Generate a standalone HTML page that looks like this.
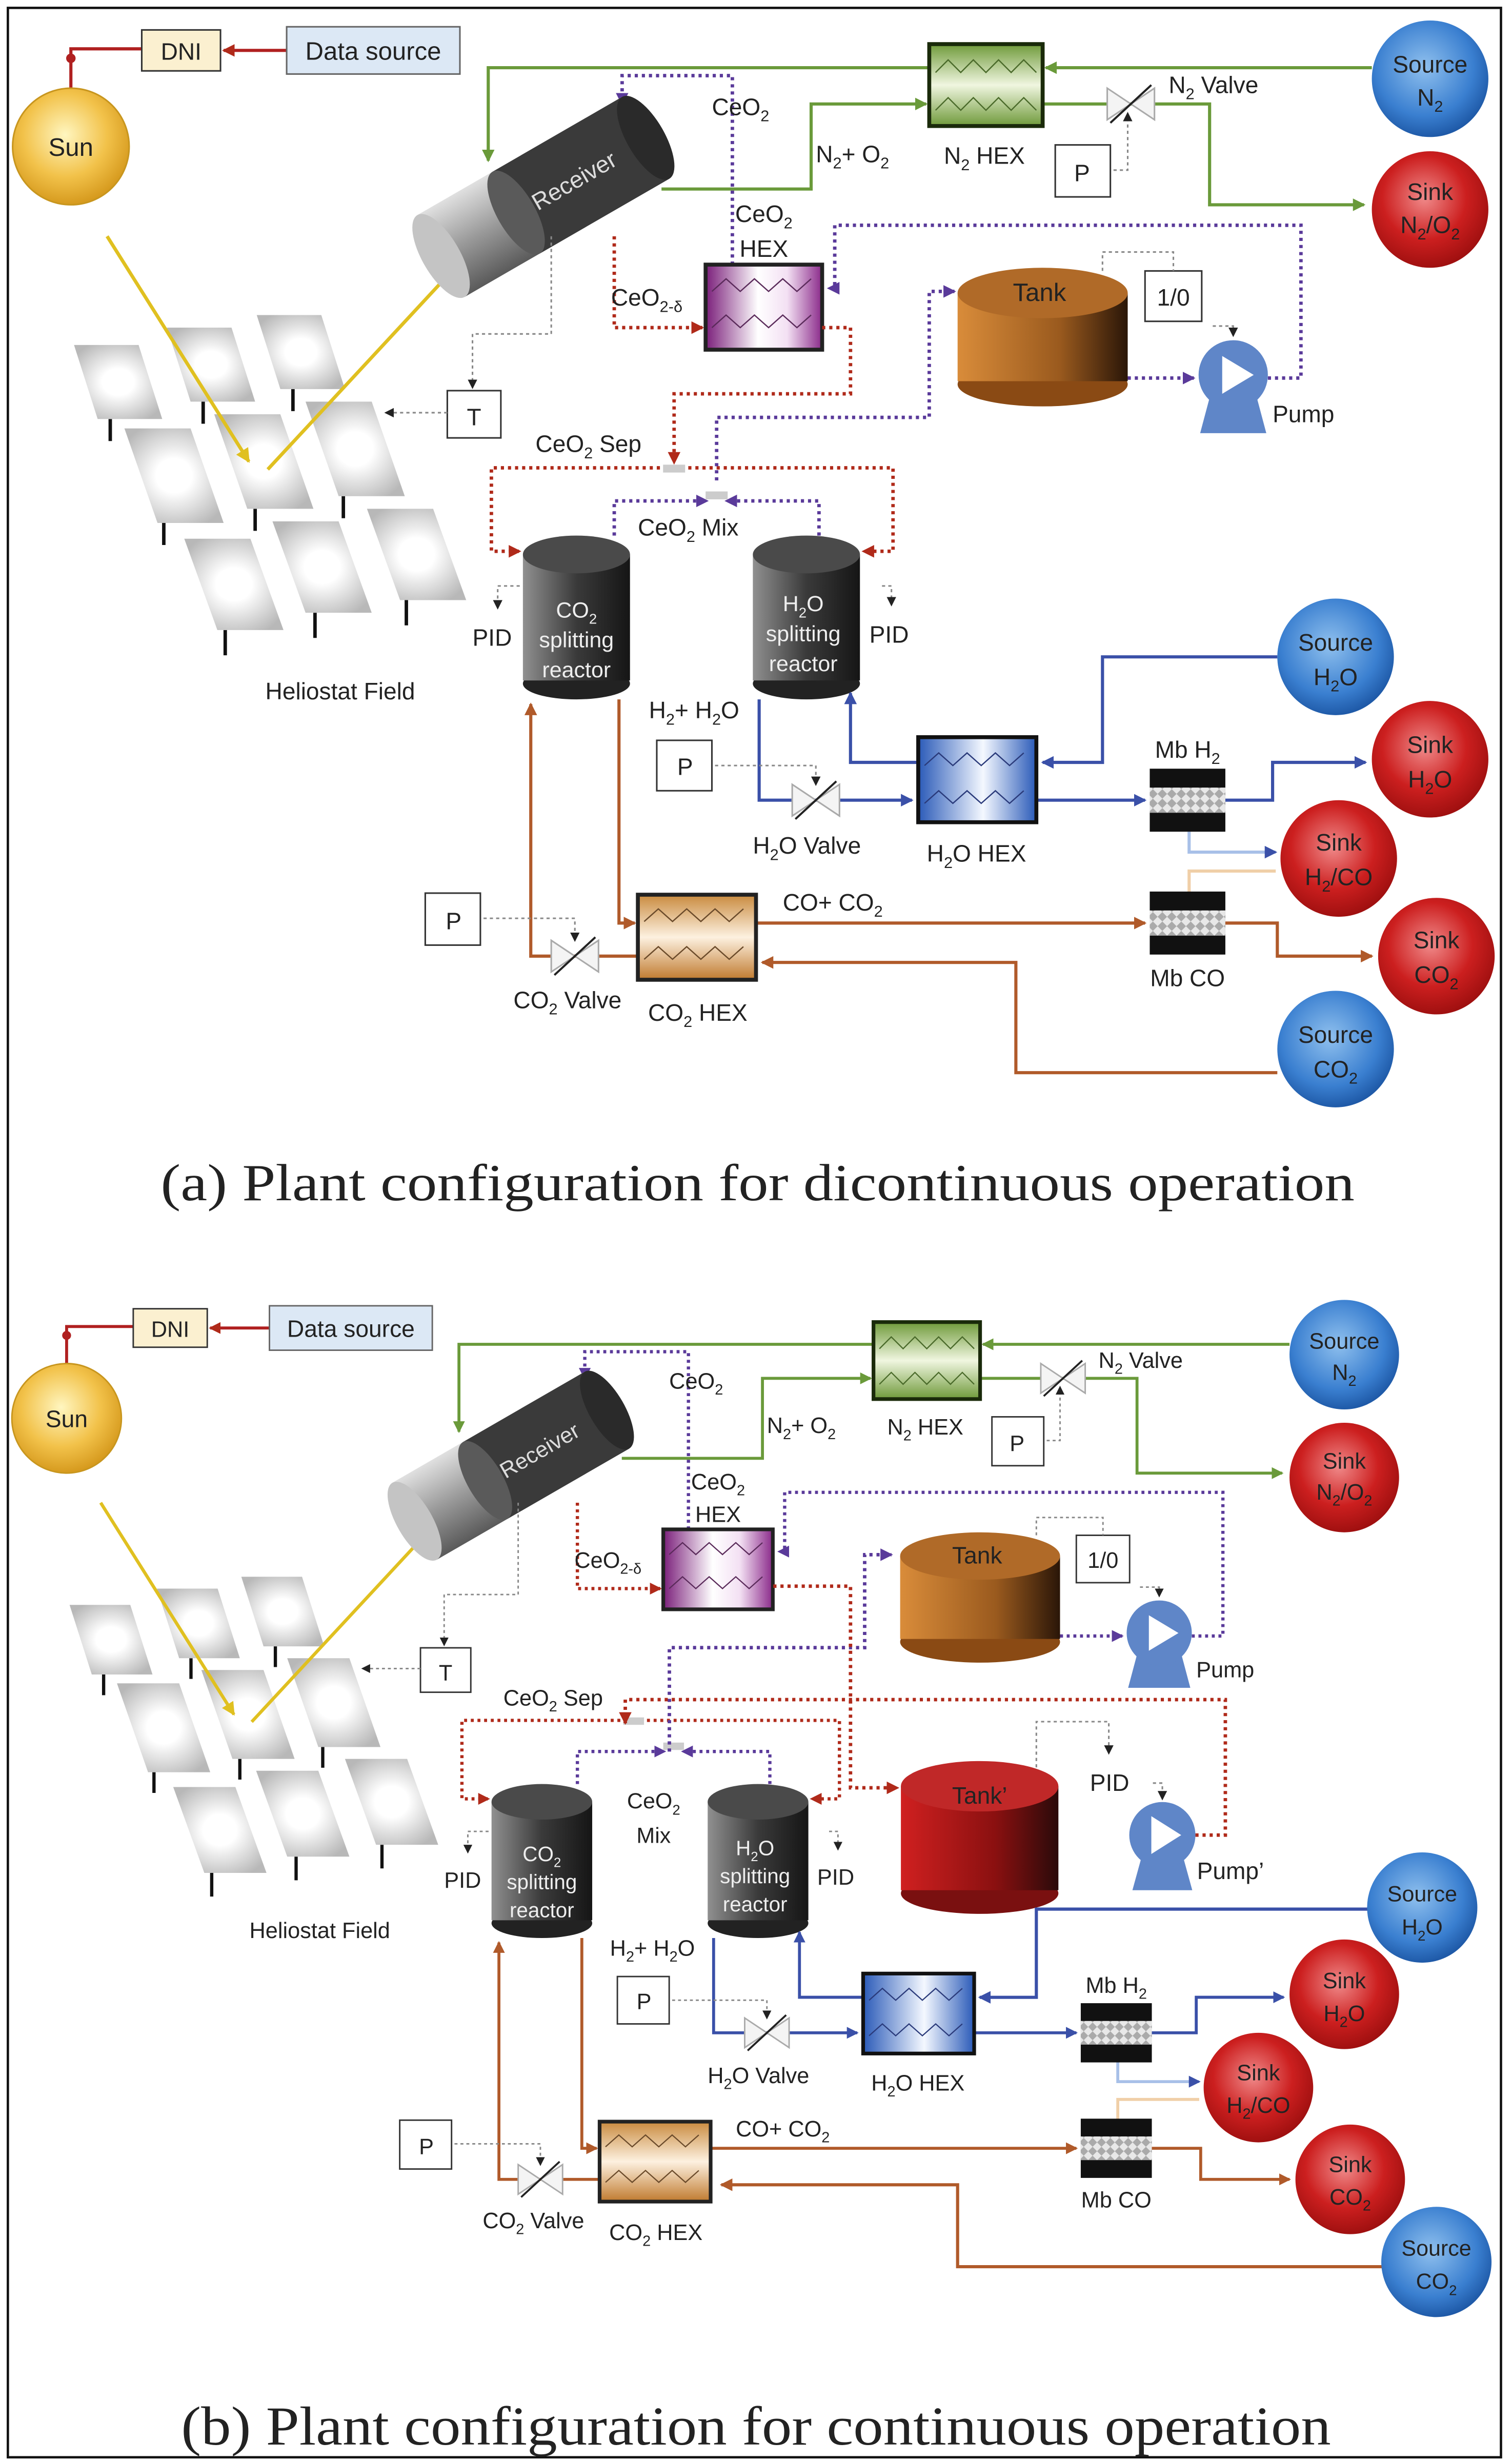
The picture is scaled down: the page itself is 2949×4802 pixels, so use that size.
<!DOCTYPE html>
<html><head><meta charset="utf-8">
<style>
html,body{margin:0;padding:0;background:#fff;}
svg{display:block;}
text{font-family:"Liberation Sans","DejaVu Sans",sans-serif;fill:#222;}
.cap{font-family:"Liberation Serif","DejaVu Serif",serif;font-size:33px;fill:#222;}
</style></head><body>
<svg xmlns="http://www.w3.org/2000/svg" xmlns:xlink="http://www.w3.org/1999/xlink" width="2949" height="4802" viewBox="0 0 960 1563" preserveAspectRatio="none">
<defs>
<radialGradient id="sun" cx="45%" cy="40%" r="60%"><stop offset="0" stop-color="#fff6c0"/><stop offset="0.6" stop-color="#f2c24a"/><stop offset="1" stop-color="#d69a1e"/></radialGradient>
<radialGradient id="blu" cx="45%" cy="40%" r="60%"><stop offset="0" stop-color="#8fc0ee"/><stop offset="0.7" stop-color="#3a7fd0"/><stop offset="1" stop-color="#1f5aa8"/></radialGradient>
<radialGradient id="red" cx="45%" cy="40%" r="60%"><stop offset="0" stop-color="#f08a8a"/><stop offset="0.6" stop-color="#cc1f1f"/><stop offset="1" stop-color="#a01010"/></radialGradient>
<linearGradient id="grn" x1="0" y1="0" x2="0" y2="1"><stop offset="0" stop-color="#6f9a3a"/><stop offset="0.5" stop-color="#f0f6e0"/><stop offset="1" stop-color="#6f9a3a"/></linearGradient>
<linearGradient id="pur" x1="0" y1="0" x2="1" y2="0"><stop offset="0" stop-color="#7a1e7a"/><stop offset="0.45" stop-color="#fff"/><stop offset="0.7" stop-color="#f3e0f3"/><stop offset="1" stop-color="#8a2a8a"/></linearGradient>
<linearGradient id="bhx" x1="0" y1="0" x2="1" y2="0"><stop offset="0" stop-color="#2a5ab8"/><stop offset="0.55" stop-color="#f4f8ff"/><stop offset="1" stop-color="#2a5ab8"/></linearGradient>
<linearGradient id="ohx" x1="0" y1="0" x2="0" y2="1"><stop offset="0" stop-color="#c98a3e"/><stop offset="0.5" stop-color="#fdf1e0"/><stop offset="1" stop-color="#c07a2e"/></linearGradient>
<linearGradient id="tank" x1="0" y1="0" x2="1" y2="0"><stop offset="0" stop-color="#d98c3a"/><stop offset="0.6" stop-color="#9a5a1e"/><stop offset="1" stop-color="#2a1608"/></linearGradient>
<linearGradient id="tankr" x1="0" y1="0" x2="1" y2="0"><stop offset="0" stop-color="#d02020"/><stop offset="0.6" stop-color="#8a1010"/><stop offset="1" stop-color="#2a0a0a"/></linearGradient>
<linearGradient id="reac" x1="0" y1="0" x2="1" y2="0"><stop offset="0" stop-color="#909090"/><stop offset="0.5" stop-color="#3a3a3a"/><stop offset="1" stop-color="#151515"/></linearGradient>
<linearGradient id="rcv" x1="0" y1="0" x2="0" y2="1"><stop offset="0" stop-color="#e0e0e0"/><stop offset="0.5" stop-color="#9a9a9a"/><stop offset="1" stop-color="#5a5a5a"/></linearGradient>
<radialGradient id="mir" cx="50%" cy="50%" r="60%"><stop offset="0.3" stop-color="#fff"/><stop offset="1" stop-color="#b8b8b8"/></radialGradient>
<pattern id="mb" width="6" height="6" patternUnits="userSpaceOnUse"><rect width="6" height="6" fill="#aaa"/><path d="M0 3 L3 0 L6 3 L3 6Z" fill="#e8e8e8"/></pattern>
<marker id="aG" markerWidth="8" markerHeight="8" refX="7" refY="4" orient="auto" markerUnits="userSpaceOnUse"><path d="M0 0 L8 4 L0 8Z" fill="#6a9a3a"/></marker>
<marker id="aB" markerWidth="8" markerHeight="8" refX="7" refY="4" orient="auto" markerUnits="userSpaceOnUse"><path d="M0 0 L8 4 L0 8Z" fill="#3a50a8"/></marker>
<marker id="aO" markerWidth="8" markerHeight="8" refX="7" refY="4" orient="auto" markerUnits="userSpaceOnUse"><path d="M0 0 L8 4 L0 8Z" fill="#b05a2a"/></marker>
<marker id="aP" markerWidth="8" markerHeight="8" refX="7" refY="4" orient="auto" markerUnits="userSpaceOnUse"><path d="M0 0 L8 4 L0 8Z" fill="#5a3a9a"/></marker>
<marker id="aR" markerWidth="8" markerHeight="8" refX="7" refY="4" orient="auto" markerUnits="userSpaceOnUse"><path d="M0 0 L8 4 L0 8Z" fill="#b02a1a"/></marker>
<marker id="aK" markerWidth="6" markerHeight="6" refX="5" refY="3" orient="auto" markerUnits="userSpaceOnUse"><path d="M0 0 L6 3 L0 6Z" fill="#222"/></marker>
<marker id="aY" markerWidth="9" markerHeight="9" refX="8" refY="4.5" orient="auto" markerUnits="userSpaceOnUse"><path d="M0 0 L9 4.5 L0 9Z" fill="#e0c020"/></marker>
</defs>

<rect x="5" y="5" width="948" height="1555" fill="#fff" stroke="#111" stroke-width="1.5"/>

<g id="T" fill="none">
 <g stroke="#111" stroke-width="2.2">
  <path d="M70 266v14M129 255v14M186 247v14M104 332v14M162 323v14M218 315v14M143 400v16M200 389v16M258 381v16"/>
 </g>
 <g fill="url(#mir)">
  <path d="M47 219h41l15 47h-41z"/><path d="M106 208h41l15 47h-41z"/><path d="M163 200h41l15 47h-41z"/>
  <path d="M79 272h42l21 60h-42z"/><path d="M136 263h42l21 60h-42z"/><path d="M194 255h42l21 60h-42z"/>
  <path d="M117 342h42l21 58h-42z"/><path d="M173 331h42l21 58h-42z"/><path d="M233 323h42l21 58h-42z"/>
 </g>
 <text x="216" y="444" font-size="15" text-anchor="middle">Heliostat Field</text>
 <path d="M68 150 L158 293" stroke="#e0c020" stroke-width="2.2" marker-end="url(#aY)"/>
 <path d="M170 298 L312 145" stroke="#e0c020" stroke-width="2.2" marker-end="url(#aY)"/>
 <path d="M45 56 V31 H90" stroke="#b02020" stroke-width="2"/><circle cx="45" cy="37" r="3" fill="#b02020"/>
 <path d="M182 32 H142" stroke="#b02020" stroke-width="2" marker-end="url(#aR)"/>
 <circle cx="45" cy="93" r="37" fill="url(#sun)" stroke="#c8961e"/>
 <text x="45" y="99" font-size="16" text-anchor="middle">Sun</text>
 <rect x="90" y="19" width="50" height="26" fill="#fbf0d0" stroke="#333"/>
 <text x="115" y="38" font-size="15" text-anchor="middle">DNI</text>
 <rect x="182" y="17" width="110" height="30" fill="#dce8f5" stroke="#666"/>
 <text x="237" y="38" font-size="16" text-anchor="middle">Data source</text>
 <path d="M871 43 H664" stroke="#6a9a3a" stroke-width="2" marker-end="url(#aG)"/>
 <path d="M590 43 H310 V102" stroke="#6a9a3a" stroke-width="2" marker-end="url(#aG)"/>
 <path d="M420 120 H515 V66 H588" stroke="#6a9a3a" stroke-width="2" marker-end="url(#aG)"/>
 <path d="M662 66 H768 V130 H866" stroke="#6a9a3a" stroke-width="2" marker-end="url(#aG)"/>
 <rect x="590" y="28" width="72" height="52" fill="url(#grn)" stroke="#1a2a0a" stroke-width="2.5"/>
 <path d="M594 46 l8 -8 8 8 8 -8 8 8 8 -8 8 8 8 -8 8 8 M594 70 l8 -8 8 8 8 -8 8 8 8 -8 8 8 8 -8 8 8" stroke="#4a6a2a" stroke-width="0.8"/>
 <text x="625" y="104" font-size="15" text-anchor="middle">N<tspan font-size="10" dy="4">2</tspan><tspan dy="-4"> HEX</tspan></text>
 <path d="M703 56 L703 76 L733 56 L733 76 Z" fill="#f4f4f4" stroke="#aaa"/>
 <path d="M705 78 L731 54" stroke="#222" stroke-width="1.3"/>
 <text x="742" y="59" font-size="15">N<tspan font-size="10" dy="4">2</tspan><tspan dy="-4"> Valve</tspan></text>
 <rect x="670" y="92" width="35" height="33" fill="#fff" stroke="#333"/>
 <text x="687" y="115" font-size="15" text-anchor="middle">P</text>
 <path d="M707 108 H716 V72" stroke="#888" stroke-width="1" stroke-dasharray="2,2" marker-end="url(#aK)"/>
 <text x="518" y="103" font-size="15">N<tspan font-size="10" dy="4">2</tspan><tspan dy="-4">+ O</tspan><tspan font-size="10" dy="4">2</tspan></text>
 <circle cx="908" cy="50" r="37" fill="url(#blu)"/><text x="908" y="46" font-size="15" text-anchor="middle">Source</text><text x="908" y="67" font-size="15" text-anchor="middle">N<tspan font-size="10" dy="4">2</tspan></text>
 <circle cx="908" cy="133" r="37" fill="url(#red)"/><text x="908" y="127" font-size="15" text-anchor="middle">Sink</text><text x="908" y="148" font-size="15" text-anchor="middle">N<tspan font-size="10" dy="4">2</tspan><tspan dy="-4">/O</tspan><tspan font-size="10" dy="4">2</tspan></text>
 <g stroke="#5a3a9a" stroke-width="2.2" stroke-dasharray="2,2.5">
  <path d="M465 168 V48 H395 V66" marker-end="url(#aP)"/>
  <path d="M805 240 H826 V143 H530 V183 H526" marker-end="url(#aP)"/>
  <path d="M716 240 H758" marker-end="url(#aP)"/>
 </g>
 <path d="M390 150 V208 H446" stroke="#b02a1a" stroke-width="2.2" stroke-dasharray="2,2.5" marker-end="url(#aR)"/>
 <g transform="translate(345,125) rotate(-30)">
  <rect x="-75" y="-30" width="150" height="60" fill="url(#rcv)"/>
  <rect x="-20" y="-30" width="95" height="60" fill="#3a3a3a"/>
  <ellipse cx="-20" cy="0" rx="12" ry="30" fill="#5a5a5a"/>
  <ellipse cx="75" cy="0" rx="12" ry="30" fill="#2a2a2a"/>
  <ellipse cx="-75" cy="0" rx="12" ry="30" fill="#c4c4c4"/>
  <text x="22" y="6" font-size="15" text-anchor="middle" style="fill:#ddd">Receiver</text>
 </g>
 <text x="452" y="73" font-size="15">CeO<tspan font-size="10" dy="4">2</tspan></text>
 <text x="485" y="141" font-size="15" text-anchor="middle">CeO<tspan font-size="10" dy="4">2</tspan></text>
 <text x="485" y="163" font-size="15" text-anchor="middle">HEX</text>
 <rect x="448" y="168" width="74" height="54" fill="url(#pur)" stroke="#222" stroke-width="2.5"/>
 <path d="M452 185 l9 -8 9 8 9 -8 9 8 9 -8 9 8 9 -8 M452 208 l9 -8 9 8 9 -8 9 8 9 -8 9 8 9 -8" stroke="#5a2a5a" stroke-width="0.8"/>
 <text x="388" y="194" font-size="15">CeO<tspan font-size="10" dy="4">2-δ</tspan></text>
 <rect x="284" y="248" width="34" height="30" fill="#fff" stroke="#333"/>
 <text x="301" y="270" font-size="15" text-anchor="middle">T</text>
 <path d="M350 150 V212 H300 V246" stroke="#888" stroke-dasharray="2,2" marker-end="url(#aK)"/>
 <path d="M284 262 H245" stroke="#888" stroke-dasharray="2,2" marker-end="url(#aK)"/>
 <ellipse cx="662" cy="244" rx="54" ry="14" fill="#8a4a14"/>
 <rect x="608" y="186" width="108" height="56" fill="url(#tank)"/>
 <ellipse cx="662" cy="186" rx="54" ry="16" fill="#b06a28"/>
 <text x="660" y="191" font-size="16" text-anchor="middle">Tank</text>
 <rect x="727" y="172" width="36" height="32" fill="#fff" stroke="#333"/>
 <text x="745" y="194" font-size="15" text-anchor="middle">1/0</text>
 <path d="M700 172 V160 H745 V172" stroke="#888" stroke-dasharray="2,2"/>
 <path d="M770 207 H783 V213" stroke="#888" stroke-dasharray="2,2" marker-end="url(#aK)"/>
 <path d="M770 245 L762 275 H804 L796 245Z" fill="#5f86c8"/>
 <circle cx="783" cy="238" r="22" fill="#5f86c8"/>
 <path d="M776 226 L796 238 L776 250Z" fill="#fff"/>
 <text x="808" y="268" font-size="15">Pump</text>
</g>

<g id="L" fill="none">
 <g stroke="#5a3a9a" stroke-width="2.2" stroke-dasharray="2,2.5">
  <path d="M390 340 V318 H449" marker-end="url(#aP)"/>
  <path d="M520 340 V318 H461" marker-end="url(#aP)"/>
 </g>
 <rect x="448" y="312" width="14" height="5" fill="#ccc"/>
 <g stroke="#b02a1a" stroke-width="2.2" stroke-dasharray="2,2.5">
  <path d="M428 297 H312 V350 H330" marker-end="url(#aR)"/>
  <path d="M428 297 H567 V350 H548" marker-end="url(#aR)"/>
 </g>
 <rect x="421" y="295" width="14" height="5" fill="#ccc"/>
 <text x="340" y="287" font-size="15">CeO<tspan font-size="10" dy="4">2</tspan><tspan dy="-4"> Sep</tspan></text>
 <ellipse cx="366" cy="434" rx="34" ry="10" fill="#222"/>
 <rect x="332" y="352" width="68" height="80" fill="url(#reac)"/>
 <ellipse cx="366" cy="352" rx="34" ry="12" fill="#4a4a4a"/>
 <text x="366" y="392" font-size="14" text-anchor="middle" style="fill:#eee">CO<tspan font-size="9" dy="4">2</tspan></text>
 <text x="366" y="411" font-size="14" text-anchor="middle" style="fill:#eee">splitting</text>
 <text x="366" y="430" font-size="14" text-anchor="middle" style="fill:#eee">reactor</text>
 <ellipse cx="512" cy="434" rx="34" ry="10" fill="#222"/>
 <rect x="478" y="352" width="68" height="80" fill="url(#reac)"/>
 <ellipse cx="512" cy="352" rx="34" ry="12" fill="#4a4a4a"/>
 <text x="510" y="388" font-size="14" text-anchor="middle" style="fill:#eee">H<tspan font-size="9" dy="4">2</tspan><tspan dy="-4">O</tspan></text>
 <text x="510" y="407" font-size="14" text-anchor="middle" style="fill:#eee">splitting</text>
 <text x="510" y="426" font-size="14" text-anchor="middle" style="fill:#eee">reactor</text>
 <text x="300" y="410" font-size="15">PID</text>
 <text x="552" y="408" font-size="15">PID</text>
 <path d="M330 372 H316 V386" stroke="#888" stroke-dasharray="2,2" marker-end="url(#aK)"/>
 <path d="M560 372 H566 V384" stroke="#888" stroke-dasharray="2,2" marker-end="url(#aK)"/>
 <circle cx="908" cy="482" r="37" fill="url(#red)"/><text x="908" y="478" font-size="15" text-anchor="middle">Sink</text><text x="908" y="500" font-size="15" text-anchor="middle">H<tspan font-size="10" dy="4">2</tspan><tspan dy="-4">O</tspan></text>
 <circle cx="850" cy="545" r="37" fill="url(#red)"/><text x="850" y="540" font-size="15" text-anchor="middle">Sink</text><text x="850" y="562" font-size="15" text-anchor="middle">H<tspan font-size="10" dy="4">2</tspan><tspan dy="-4">/CO</tspan></text>
 <circle cx="912" cy="607" r="37" fill="url(#red)"/><text x="912" y="602" font-size="15" text-anchor="middle">Sink</text><text x="912" y="624" font-size="15" text-anchor="middle">CO<tspan font-size="10" dy="4">2</tspan></text>
 <g stroke="#3a50a8" stroke-width="2">
  <path d="M583 484 H540 V440" marker-end="url(#aB)"/>
  <path d="M482 444 V508 H579" marker-end="url(#aB)"/>
  <path d="M658 508 H727" marker-end="url(#aB)"/>
  <path d="M778 508 H808 V484 H867" marker-end="url(#aB)"/>
 </g>
 <path d="M755 527 V541 H810" stroke="#a8c0e8" stroke-width="2" marker-end="url(#aB)"/>
 <path d="M755 567 V553 H810" stroke="#f0cfa8" stroke-width="2"/>
 <text x="412" y="456" font-size="15">H<tspan font-size="10" dy="4">2</tspan><tspan dy="-4">+ H</tspan><tspan font-size="10" dy="4">2</tspan><tspan dy="-4">O</tspan></text>
 <rect x="417" y="470" width="35" height="32" fill="#fff" stroke="#333"/>
 <text x="435" y="492" font-size="15" text-anchor="middle">P</text>
 <path d="M454 486 H518 V498" stroke="#888" stroke-dasharray="2,2" marker-end="url(#aK)"/>
 <path d="M503 498 L503 518 L533 498 L533 518 Z" fill="#f4f4f4" stroke="#aaa"/>
 <path d="M505 520 L531 496" stroke="#222" stroke-width="1.3"/>
 <text x="478" y="542" font-size="15">H<tspan font-size="10" dy="4">2</tspan><tspan dy="-4">O Valve</tspan></text>
 <rect x="583" y="468" width="75" height="54" fill="url(#bhx)" stroke="#111" stroke-width="2.5"/>
 <path d="M587 486 l9 -8 9 8 9 -8 9 8 9 -8 9 8 9 -8 M587 510 l9 -8 9 8 9 -8 9 8 9 -8 9 8 9 -8" stroke="#2a3a7a" stroke-width="0.8"/>
 <text x="620" y="547" font-size="15" text-anchor="middle">H<tspan font-size="10" dy="4">2</tspan><tspan dy="-4">O HEX</tspan></text>
 <rect x="730" y="488" width="48" height="40" fill="#111"/><rect x="730" y="500" width="48" height="16" fill="url(#mb)"/>
 <text x="754" y="481" font-size="15" text-anchor="middle">Mb H<tspan font-size="10" dy="4">2</tspan></text>
 <rect x="730" y="566" width="48" height="40" fill="#111"/><rect x="730" y="578" width="48" height="16" fill="url(#mb)"/>
 <text x="754" y="626" font-size="15" text-anchor="middle">Mb CO</text>
 <g stroke="#b05a2a" stroke-width="2">
  <path d="M393 444 V586 H403" marker-end="url(#aO)"/>
  <path d="M480 586 H727" marker-end="url(#aO)"/>
  <path d="M778 586 H811 V607 H871" marker-end="url(#aO)"/>
  <path d="M405 607 H337 V447" marker-end="url(#aO)"/>
 </g>
 <text x="497" y="578" font-size="15">CO+ CO<tspan font-size="10" dy="4">2</tspan></text>
 <rect x="405" y="568" width="75" height="54" fill="url(#ohx)" stroke="#222" stroke-width="2.5"/>
 <path d="M409 585 l9 -8 9 8 9 -8 9 8 9 -8 9 8 9 -8 M409 609 l9 -8 9 8 9 -8 9 8 9 -8 9 8 9 -8" stroke="#6a4a2a" stroke-width="0.8"/>
 <text x="443" y="648" font-size="15" text-anchor="middle">CO<tspan font-size="10" dy="4">2</tspan><tspan dy="-4"> HEX</tspan></text>
 <path d="M350 597 L350 617 L380 597 L380 617 Z" fill="#f4f4f4" stroke="#aaa"/>
 <path d="M352 619 L378 595" stroke="#222" stroke-width="1.3"/>
 <text x="326" y="640" font-size="15">CO<tspan font-size="10" dy="4">2</tspan><tspan dy="-4"> Valve</tspan></text>
 <rect x="270" y="567" width="35" height="33" fill="#fff" stroke="#333"/>
 <text x="288" y="590" font-size="15" text-anchor="middle">P</text>
 <path d="M307 583 H365 V597" stroke="#888" stroke-dasharray="2,2" marker-end="url(#aK)"/>
</g>

<g fill="none">
 <path d="M455 305 V265 H590 V185 H606" stroke="#5a3a9a" stroke-width="2.2" stroke-dasharray="2,2.5" marker-end="url(#aP)"/>
 <path d="M522 208 H540 V250 H428 V294" stroke="#b02a1a" stroke-width="2.2" stroke-dasharray="2,2.5" marker-end="url(#aR)"/>
 <text x="405" y="340" font-size="15">CeO<tspan font-size="10" dy="4">2</tspan><tspan dy="-4"> Mix</tspan></text>
 <path d="M811 417 H700 V484 H662" stroke="#3a50a8" stroke-width="2" marker-end="url(#aB)"/>
 <path d="M811 681 H645 V611 H484" stroke="#b05a2a" stroke-width="2" marker-end="url(#aO)"/>
 <circle cx="848" cy="417" r="37" fill="url(#blu)"/><text x="848" y="413" font-size="15" text-anchor="middle">Source</text><text x="848" y="435" font-size="15" text-anchor="middle">H<tspan font-size="10" dy="4">2</tspan><tspan dy="-4">O</tspan></text>
 <circle cx="848" cy="666" r="37" fill="url(#blu)"/><text x="848" y="662" font-size="15" text-anchor="middle">Source</text><text x="848" y="684" font-size="15" text-anchor="middle">CO<tspan font-size="10" dy="4">2</tspan></text>
</g>

<text x="102" y="762" class="cap" textLength="758" lengthAdjust="spacingAndGlyphs">(a) Plant configuration for dicontinuous operation</text>

<g transform="translate(0,813) scale(0.94)">
 <use xlink:href="#T" href="#T"/>
 <use xlink:href="#L" href="#L"/>
</g>
<g fill="none">
 <path d="M425 1112 V1046 H549 V987 H566" stroke="#5a3a9a" stroke-width="2.2" stroke-dasharray="2,2.5" marker-end="url(#aP)"/>
 <g stroke="#b02a1a" stroke-width="2.2" stroke-dasharray="2,2.5">
  <path d="M491 1007 H540 V1135 H570" marker-end="url(#aR)"/>
  <path d="M759 1165 H778 V1079 H397 V1094" marker-end="url(#aR)"/>
 </g>
 <text x="415" y="1148" font-size="14" text-anchor="middle">CeO<tspan font-size="9" dy="4">2</tspan></text>
 <text x="415" y="1170" font-size="14" text-anchor="middle">Mix</text>
 <ellipse cx="622" cy="1202" rx="50" ry="13" fill="#7a1010"/>
 <rect x="572" y="1134" width="100" height="66" fill="url(#tankr)"/>
 <ellipse cx="622" cy="1134" rx="50" ry="16" fill="#c02828"/>
 <text x="622" y="1145" font-size="15" text-anchor="middle">Tank’</text>
 <path d="M658 1122 V1093 H704 V1113" stroke="#888" stroke-dasharray="2,2" marker-end="url(#aK)"/>
 <text x="692" y="1137" font-size="15">PID</text>
 <path d="M732 1132 H738 V1142" stroke="#888" stroke-dasharray="2,2" marker-end="url(#aK)"/>
 <path d="M727 1171 L719 1200 H757 L749 1171Z" fill="#5f86c8"/>
 <circle cx="738" cy="1165" r="21" fill="#5f86c8"/>
 <path d="M731 1153 L750 1165 L731 1177Z" fill="#fff"/>
 <text x="760" y="1193" font-size="15">Pump’</text>
 <path d="M870 1212 H658 V1268 H622" stroke="#3a50a8" stroke-width="2" marker-end="url(#aB)"/>
 <path d="M878 1439 H608 V1387 H458" stroke="#b05a2a" stroke-width="2" marker-end="url(#aO)"/>
 <circle cx="903" cy="1211" r="35" fill="url(#blu)"/><text x="903" y="1207" font-size="14" text-anchor="middle">Source</text><text x="903" y="1228" font-size="14" text-anchor="middle">H<tspan font-size="9" dy="4">2</tspan><tspan dy="-4">O</tspan></text>
 <circle cx="912" cy="1436" r="35" fill="url(#blu)"/><text x="912" y="1432" font-size="14" text-anchor="middle">Source</text><text x="912" y="1453" font-size="14" text-anchor="middle">CO<tspan font-size="9" dy="4">2</tspan></text>
</g>

<text x="115" y="1552" class="cap" style="font-size:35px" textLength="730" lengthAdjust="spacingAndGlyphs">(b) Plant configuration for continuous operation</text>
</svg>
</body></html>
